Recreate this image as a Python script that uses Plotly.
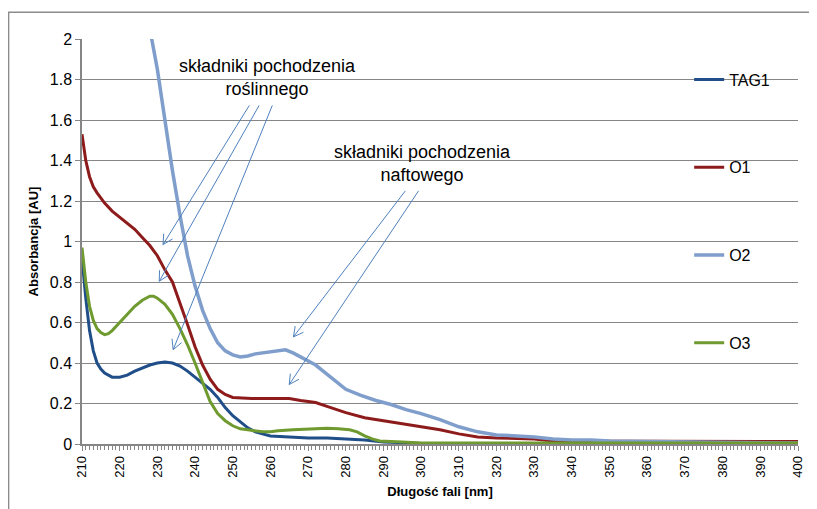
import math
import plotly.graph_objects as go

# ---------------- data ----------------
tag1_x = [210, 211, 212, 213, 214, 215, 216, 218, 220, 222, 224, 226, 228, 230, 232, 234, 236, 238, 240,
          242, 244, 246, 248, 250, 252, 254, 256, 258, 260, 265, 270, 275, 280, 285, 290, 295, 300, 320,
          350, 380, 400]
tag1_y = [0.92, 0.72, 0.56, 0.46, 0.40, 0.37, 0.35, 0.33, 0.33, 0.34, 0.36, 0.375, 0.39, 0.40, 0.405, 0.40,
          0.385, 0.36, 0.33, 0.30, 0.27, 0.23, 0.18, 0.14, 0.11, 0.08, 0.06, 0.05, 0.04, 0.035, 0.03, 0.03,
          0.025, 0.02, 0.01, 0.005, 0.003, 0.003, 0.003, 0.003, 0.003]

o1_x = [210, 211, 212, 213, 214, 216, 218, 220, 222, 224, 226, 228, 230, 232, 234, 236, 238, 240, 242, 244,
        246, 248, 250, 255, 260, 265, 268, 272, 276, 280, 285, 290, 295, 300, 305, 310, 315, 320, 330, 335,
        340, 360, 380, 400]
o1_y = [1.53, 1.40, 1.32, 1.27, 1.24, 1.19, 1.15, 1.12, 1.09, 1.06, 1.02, 0.98, 0.93, 0.86, 0.80, 0.70, 0.59,
        0.48, 0.39, 0.32, 0.27, 0.245, 0.23, 0.225, 0.225, 0.225, 0.215, 0.205, 0.18, 0.155, 0.13, 0.115,
        0.10, 0.085, 0.07, 0.05, 0.035, 0.03, 0.025, 0.015, 0.015, 0.015, 0.013, 0.012]

o2_x = [226, 228, 230, 232, 234, 236, 238, 240, 242, 244, 246, 248, 250, 252, 254, 256, 258, 260, 262, 264,
        266, 268, 270, 272, 274, 276, 278, 280, 284, 288, 292, 296, 300, 305, 310, 315, 320, 325, 330, 335,
        340, 345, 350, 360, 370, 380, 390, 400]
o2_y = [2.25, 2.05, 1.85, 1.60, 1.35, 1.13, 0.93, 0.78, 0.66, 0.57, 0.50, 0.46, 0.44, 0.43, 0.435, 0.445,
        0.45, 0.455, 0.46, 0.465, 0.45, 0.43, 0.41, 0.39, 0.36, 0.33, 0.30, 0.27, 0.24, 0.215, 0.195, 0.17,
        0.15, 0.12, 0.085, 0.06, 0.045, 0.04, 0.035, 0.025, 0.02, 0.02, 0.015, 0.012, 0.01, 0.008, 0.008,
        0.005]

o3_x = [210, 211, 212, 213, 214, 215, 216, 217, 218, 220, 222, 224, 226, 228, 229, 230, 232, 234, 236, 238,
        240, 242, 244, 246, 248, 250, 252, 254, 256, 258, 260, 262, 266, 270, 275, 278, 281, 283, 285, 287,
        289, 295, 300, 350, 400]
o3_y = [0.97, 0.80, 0.68, 0.61, 0.57, 0.55, 0.54, 0.545, 0.56, 0.60, 0.64, 0.68, 0.71, 0.73, 0.73, 0.72,
        0.69, 0.64, 0.57, 0.49, 0.40, 0.30, 0.21, 0.15, 0.115, 0.09, 0.075, 0.07, 0.065, 0.06, 0.06, 0.065,
        0.07, 0.075, 0.078, 0.075, 0.07, 0.06, 0.04, 0.025, 0.015, 0.01, 0.005, 0.005, 0.005]

series_names = ["TAG1", "O1", "O2", "O3"]
series_colors = ["#1F4E89", "#8E1B1B", "#7F9ECB", "#6F9A2F"]
series_widths = [3, 3, 3.5, 3]

x_ticks = list(range(210, 401, 10))
y_ticks = [0, 0.2, 0.4, 0.6, 0.8, 1, 1.2, 1.4, 1.6, 1.8, 2]

label_plant = "składniki pochodzenia<br>roślinnego"
label_oil = "składniki pochodzenia<br>naftowego"
# arrows: (tail_x, tail_y, head_x, head_y) in data units
plant_arrows = [(254.4, 1.672, 231.5, 0.985), (257.0, 1.672, 230.5, 0.804), (260.5, 1.672, 234.2, 0.466)]
oil_arrows = [(295.8, 1.25, 266.1, 0.529), (299.3, 1.25, 265.0, 0.294)]

# ---------------- layout geometry ----------------
# page body has an 8px default margin, so the figure is 8px smaller and shifted
W, H = 809, 501
ML, MR, MT, MB = 74, 18, 31, 62
XR = [210, 400]
YR = [0, 2]
PW = W - ML - MR
PH = H - MT - MB


def to_px(x, y):
    return (ML + (x - XR[0]) / (XR[1] - XR[0]) * PW, MT + PH - (y - YR[0]) / (YR[1] - YR[0]) * PH)


def to_data(px, py):
    return (XR[0] + (px - ML) / PW * (XR[1] - XR[0]), YR[0] + (MT + PH - py) / PH * (YR[1] - YR[0]))


fig = go.Figure()
xs = [tag1_x, o1_x, o2_x, o3_x]
ys = [tag1_y, o1_y, o2_y, o3_y]
for i, (name, col) in enumerate(zip(series_names, series_colors)):
    fig.add_trace(go.Scatter(x=xs[i], y=ys[i], name=name, mode="lines",
                             line=dict(color=col, width=series_widths[i]), legendgroup=name))

arrow_col = "#4F81BD"
shapes = []
for (tx, ty, hx, hy) in plant_arrows + oil_arrows:
    shapes.append(dict(type="line", xref="x", yref="y", x0=tx, y0=ty, x1=hx, y1=hy,
                       line=dict(color=arrow_col, width=1)))
    tpx, tpy = to_px(tx, ty)
    hpx, hpy = to_px(hx, hy)
    d = math.hypot(tpx - hpx, tpy - hpy)
    ux, uy = (tpx - hpx) / d, (tpy - hpy) / d
    pts = []
    for ang in (math.radians(28), -math.radians(28)):
        rx = ux * math.cos(ang) - uy * math.sin(ang)
        ry = ux * math.sin(ang) + uy * math.cos(ang)
        pts.append(to_data(hpx + 11 * rx, hpy + 11 * ry))
    path = "M {} {} L {} {} L {} {}".format(pts[0][0], pts[0][1], hx, hy, pts[1][0], pts[1][1])
    shapes.append(dict(type="path", xref="x", yref="y", path=path, line=dict(color=arrow_col, width=1)))

# outer frame
x0p = (0.5 - ML) / PW
y1p = (MT + PH - 4) / PH
shapes.append(dict(type="rect", xref="paper", yref="paper", x0=x0p, x1=1.2, y0=-0.3, y1=y1p,
                   line=dict(color="#8C8C8C", width=1.5), layer="below"))

fig.update_layout(
    width=W, height=H,
    margin=dict(l=ML, r=MR, t=MT, b=MB),
    paper_bgcolor="white", plot_bgcolor="white",
    font=dict(family="Liberation Sans, Arial, sans-serif", color="black"),
    shapes=shapes,
    showlegend=True,
    legend=dict(x=0.848, y=0.942, xanchor="left", yanchor="top", bgcolor="rgba(0,0,0,0)",
                font=dict(size=16), tracegroupgap=64, traceorder="grouped"),
    annotations=[
        dict(x=259.3, y=1.81, xref="x", yref="y", text=label_plant, showarrow=False,
             font=dict(size=18), align="center"),
        dict(x=300.4, y=1.387, xref="x", yref="y", text=label_oil, showarrow=False,
             font=dict(size=18), align="center"),
    ],
)
fig.update_xaxes(range=XR, tickvals=x_ticks, ticktext=[str(v) for v in x_ticks], tickangle=-90,
                 tickfont=dict(size=13), showgrid=False, showline=True, linecolor="#868686", linewidth=1.5,
                 ticks="outside", ticklen=5, tickcolor="#868686",
                 minor=dict(dtick=1, tick0=210, ticks="outside", ticklen=4, tickcolor="#868686"),
                 title=dict(text="<b>Długość fali [nm]</b>", font=dict(size=13), standoff=10),
                 zeroline=False)
fig.update_yaxes(range=YR, tickvals=y_ticks, ticktext=[("%g" % v) for v in y_ticks],
                 tickfont=dict(size=16), showgrid=True, gridcolor="#868686", gridwidth=1,
                 showline=True, linecolor="#868686", linewidth=1.5, ticks="outside", ticklen=5,
                 tickcolor="#868686",
                 title=dict(text="<b>Absorbancja [AU]</b>", font=dict(size=13), standoff=8),
                 zeroline=False)

fig.write_html("out.html")
